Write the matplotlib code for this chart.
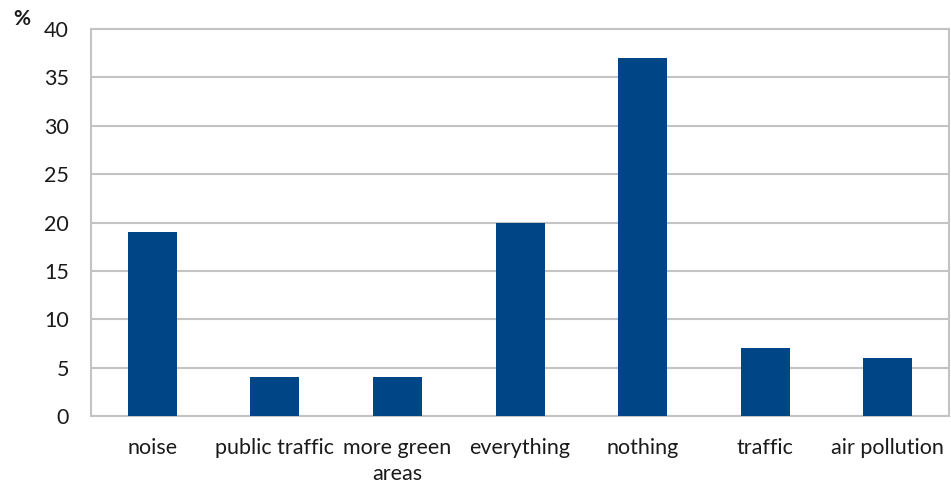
import matplotlib
matplotlib.use("Agg")
import matplotlib.pyplot as plt
import numpy as np

categories = ["noise", "public traffic", "more green\nareas", "everything",
              "nothing", "traffic", "air pollution"]
values = [19, 4, 4, 20, 37, 7, 6]
yticks = [0, 5, 10, 15, 20, 25, 30, 35, 40]

plt.rcParams["font.family"] = ["Lato", "DejaVu Sans"]
text_color = "#1a1a1a"
grid_color = "#c3c3c3"
bar_color = "#004586"

fig = plt.figure(figsize=(9.51, 4.84), dpi=100)
ax = fig.add_axes([0.0957, 0.1405, 0.9023, 0.7995])

x = np.arange(len(categories))
ax.bar(x, values, width=0.4, color=bar_color, zorder=3)

ax.set_xlim(-0.5, len(categories) - 0.5)
ax.set_ylim(0, 40)
ax.set_yticks(yticks)
ax.set_yticklabels([str(t) for t in yticks])
ax.set_xticks(x)
ax.set_xticklabels(categories, linespacing=1.35, va="top")

ax.yaxis.grid(True, color=grid_color, linewidth=1.5, zorder=0)
for side in ["left", "bottom", "right", "top"]:
    ax.spines[side].set_color(grid_color)
    ax.spines[side].set_linewidth(1.5)

ax.tick_params(axis="both", length=0, labelsize=15.5, colors=text_color)
ax.tick_params(axis="y", pad=16)
ax.tick_params(axis="x", pad=16)

fig.text(0.014, 0.94, "%", fontsize=15, fontweight="bold", color=text_color,
         ha="left", va="bottom")

fig.savefig("out.png", dpi=100)
